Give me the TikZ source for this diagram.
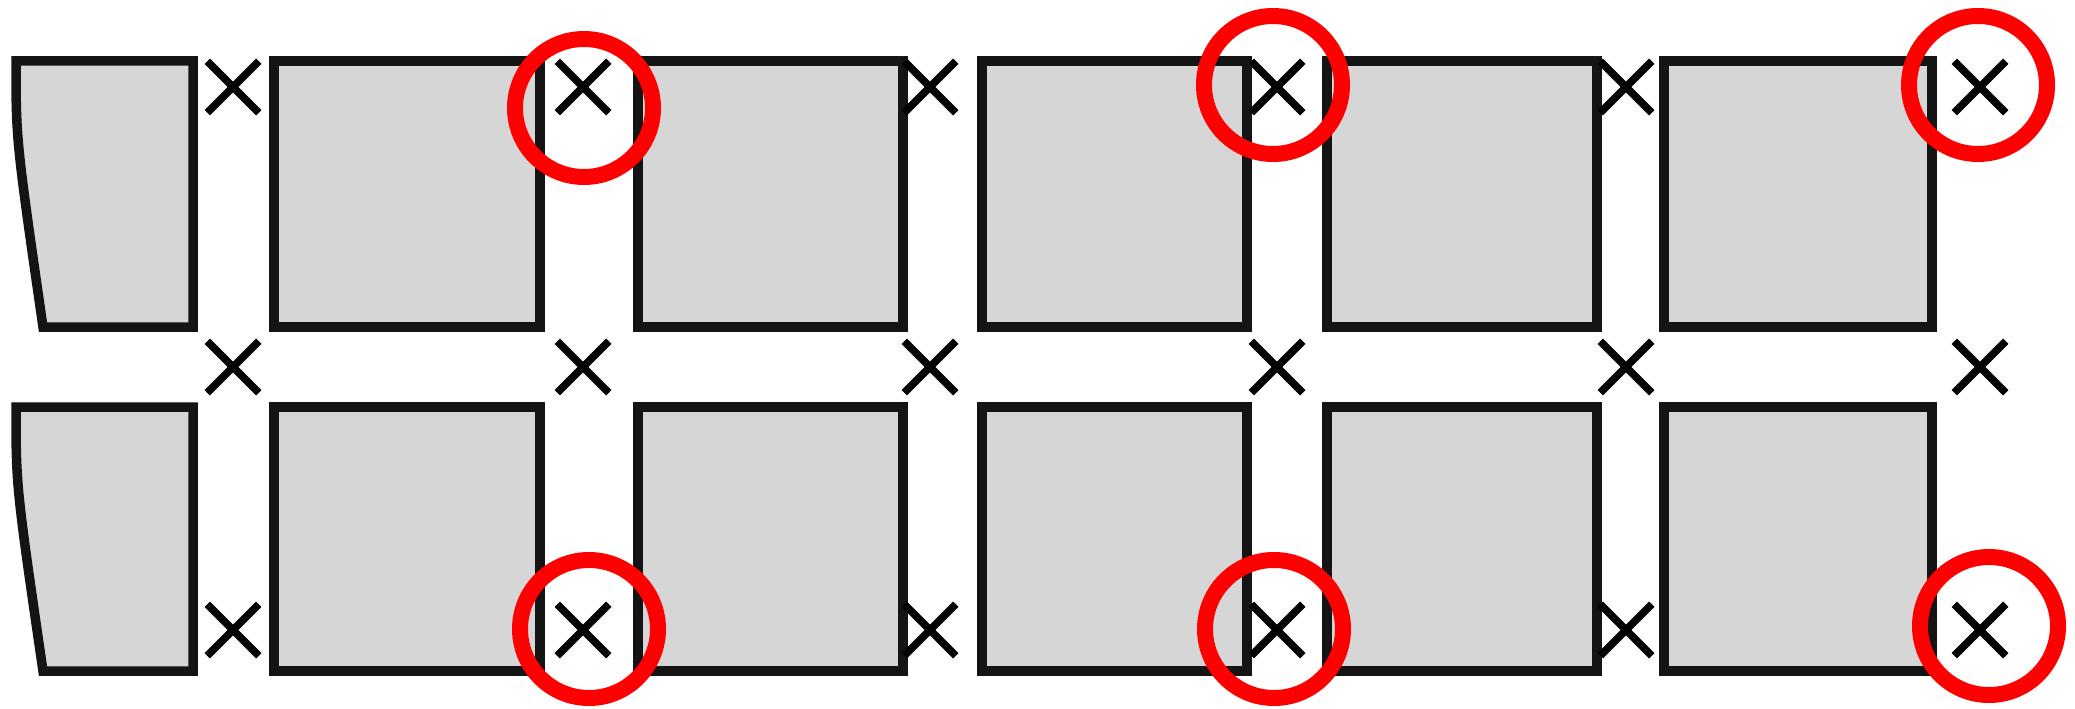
\documentclass[tikz,border=0pt]{standalone}
\usetikzlibrary{shapes.misc}
\definecolor{cellgray}{RGB}{214,214,214}
\begin{document}
\begin{tikzpicture}[x=1pt,y=-1pt,
  cellbox/.style={rectangle, draw=black!92, fill=cellgray, line width=9.5pt, inner sep=0pt, minimum width=#1},
  rowone/.style={minimum height=266pt},
  rowtwo/.style={minimum height=264pt},
  xmark/.style={cross out, draw=black, line width=7.5pt, inner sep=0pt, minimum size=44pt},
  ring/.style={circle, draw=red, line width=16pt, inner sep=0pt, minimum size=138pt},
  leftcell/.style={draw=black!92, fill=cellgray, line width=9.5pt}]
\useasboundingbox (0,0) rectangle (2075,709);
% row 1
\draw[leftcell] (16,61) .. controls (16,140) .. (43,327) -- (193,327) -- (193,61) -- cycle;
\node[cellbox=266pt, rowone] (a2) at (407,194) {};
\node[cellbox=265pt, rowone] (a3) at (770.5,194) {};
\node[cellbox=265pt, rowone] (a4) at (1114.5,194) {};
\node[cellbox=270pt, rowone] (a5) at (1462,194) {};
\node[cellbox=268pt, rowone] (a6) at (1798,194) {};
% row 2
\draw[leftcell] (16,407) .. controls (16,486) .. (43,671) -- (193,671) -- (193,407) -- cycle;
\node[cellbox=266pt, rowtwo] (b2) at (407,539) {};
\node[cellbox=265pt, rowtwo] (b3) at (770.5,539) {};
\node[cellbox=265pt, rowtwo] (b4) at (1114.5,539) {};
\node[cellbox=270pt, rowtwo] (b5) at (1462,539) {};
\node[cellbox=268pt, rowtwo] (b6) at (1798,539) {};
% crosses
\foreach \i/\xx in {1/233,2/583,3/930,4/1277,5/1626,6/1980}{
  \node[xmark] (p\i) at (\xx,87) {};
  \node[xmark] (q\i) at (\xx,367) {};
  \node[xmark] (r\i) at (\xx,630) {};
}
% red rings
\node[ring] (c1) at (584,108) {};
\node[ring] (c2) at (1273,85) {};
\node[ring] (c3) at (1978,85) {};
\node[ring] (c4) at (589,629) {};
\node[ring] (c5) at (1274,629) {};
\node[ring] (c6) at (1989,626) {};
\end{tikzpicture}
\end{document}
